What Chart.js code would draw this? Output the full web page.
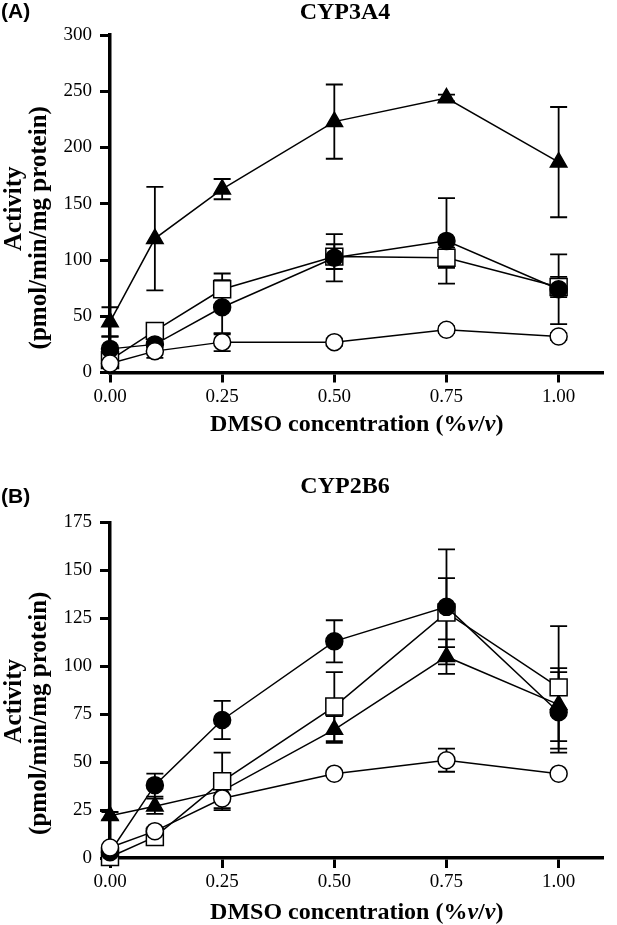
<!DOCTYPE html>
<html>
<head>
<meta charset="utf-8">
<script src="https://cdn.jsdelivr.net/npm/chart.js@4.4.1/dist/chart.umd.min.js"></script>
<style>
  body { margin: 0; background: #fff; }
  canvas { display: block; }
</style>
</head>
<body>
<canvas id="cyp3a4" width="617" height="470"></canvas>
<canvas id="cyp2b6" width="617" height="455"></canvas>
<script>
// DMSO concentrations (%v/v) and the ticks shown on the x axis
const doses = [0, 0.1, 0.25, 0.5, 0.75, 1.0];
const doseTicks = [0, 0.25, 0.5, 0.75, 1.0];

// CYP3A4 panel
const cyp3a4Ticks = [0, 50, 100, 150, 200, 250, 300];
const cyp3a4Open = [8, 19, 27, 27, 38, 32];
const cyp3a4OpenSd = [3, 6, 8, 3, 3, 3];
const cyp3a4Filled = [21, 25, 58, 102, 117, 74];
const cyp3a4FilledSd = [11, 5, 24, 21, 38, 31];
const cyp3a4Square = [11, 37, 74, 103, 102, 76];
const cyp3a4SquareSd = [4, 5, 14, 11, 9, 9];
const cyp3a4Triangle = [45, 119, 163, 223, 244, 187];
const cyp3a4TriangleSd = [13, 46, 9, 33, 3, 49];

// CYP2B6 panel
const cyp2b6Ticks = [0, 25, 50, 75, 100, 125, 150, 175];
const cyp2b6Open = [5.5, 14, 31, 44, 51, 44];
const cyp2b6OpenSd = [1, 2, 5, 1, 6, 1];
const cyp2b6Filled = [3, 38, 72, 113, 131, 76];
const cyp2b6FilledSd = [1, 6, 10, 11, 30, 21];
const cyp2b6Square = [0.5, 11, 40, 79, 128, 89];
const cyp2b6SquareSd = [0.5, 2, 15, 18, 18, 32];
const cyp2b6Triangle = [22, 27, 35, 67, 105, 80];
const cyp2b6TriangleSd = [2, 4, 3, 7, 9, 19];

const serif = '"Liberation Serif", "Times New Roman", serif';

// mean +/- SD bars, drawn under the markers
const errorBars = {
  id: 'errorBars',
  beforeDatasetsDraw(chart) {
    const { ctx, scales: { x, y } } = chart;
    ctx.save();
    ctx.strokeStyle = '#000';
    ctx.lineWidth = 1.8;
    chart.data.datasets.forEach((ds) => {
      ds.data.forEach((p, i) => {
        const e = ds.errors[i];
        if (!e) return;
        const px = x.getPixelForValue(p.x);
        const top = y.getPixelForValue(p.y + e);
        const bot = y.getPixelForValue(Math.max(p.y - e, 0));
        ctx.beginPath();
        ctx.moveTo(px, top); ctx.lineTo(px, bot);
        ctx.moveTo(px - 8.5, top); ctx.lineTo(px + 8.5, top);
        ctx.moveTo(px - 8.5, bot); ctx.lineTo(px + 8.5, bot);
        ctx.stroke();
      });
    });
    ctx.restore();
  }
};

// panel letter, title and axis titles
const panelText = {
  id: 'panelText',
  afterDraw(chart, args, o) {
    const { ctx, chartArea: a } = chart;
    ctx.save();
    ctx.fillStyle = '#000';
    ctx.textBaseline = 'middle';

    ctx.textAlign = 'left';
    ctx.font = 'bold 21px "Liberation Sans", Arial, sans-serif';
    ctx.fillText(o.panel, 1, o.panelY);

    ctx.textAlign = 'center';
    ctx.font = 'bold 24px ' + serif;
    ctx.fillText(o.title, 345, a.top + o.titleDy);

    const cy = (a.top + a.bottom) / 2;
    ctx.font = 'bold 25px ' + serif;
    [['Activity', 15, o.yDy[0]], ['(pmol/min/mg protein)', 39.5, o.yDy[1]]].forEach(([t, x, dy]) => {
      ctx.save();
      ctx.translate(x, cy + dy);
      ctx.rotate(-Math.PI / 2);
      ctx.fillText(t, 0, 0);
      ctx.restore();
    });

    // x title, the v's in italics
    const parts = [['DMSO concentration (%', false], ['v', true], ['/', false], ['v', true], [')', false]];
    const fontOf = (it) => (it ? 'italic bold 24px ' : 'bold 24px ') + serif;
    let total = 0;
    parts.forEach(([t, it]) => { ctx.font = fontOf(it); total += ctx.measureText(t).width; });
    let tx = (a.left + a.right) / 2 - total / 2;
    const ty = a.bottom + o.xTitleDy;
    ctx.textAlign = 'left';
    parts.forEach(([t, it]) => {
      ctx.font = fontOf(it);
      ctx.fillText(t, tx, ty);
      tx += ctx.measureText(t).width;
    });
    ctx.restore();
  }
};

function series(values, sds, style) {
  return Object.assign({
    data: doses.map((d, i) => ({ x: d, y: values[i] })),
    errors: sds,
    borderColor: '#000',
    borderWidth: 1.5,
    tension: 0,
    clip: false,
    pointBorderColor: '#000',
    pointBorderWidth: 1.5,
  }, style);
}

const openCircle = { label: 'open circle', pointStyle: 'circle', pointRadius: 8.5, pointBackgroundColor: '#fff' };
const filledCircle = { label: 'filled circle', pointStyle: 'circle', pointRadius: 8.5, pointBackgroundColor: '#000' };
const openSquare = { label: 'open square', pointStyle: 'rect', pointRadius: 12, pointBackgroundColor: '#fff' };
const filledTriangle = { label: 'filled triangle', pointStyle: 'triangle', pointRadius: 9.5, pointBackgroundColor: '#000' };

function makeChart(id, sets, yTicks, yMax, cfg) {
  new Chart(document.getElementById(id), {
    type: 'line',
    data: { datasets: sets },
    options: {
      responsive: false,
      animation: false,
      events: [],
      layout: { padding: { top: cfg.top, right: 5.4, left: 0, bottom: 0 } },
      scales: {
        x: {
          type: 'linear',
          min: 0,
          max: 1.1,
          afterBuildTicks: (s) => { s.ticks = doseTicks.map((v) => ({ value: v })); },
          afterFit: (s) => { s.height = cfg.xHeight; },
          border: { display: true, color: '#000', width: 3.5 },
          grid: { display: true, drawOnChartArea: false, drawTicks: true, tickLength: 10, tickWidth: 3, tickColor: '#000' },
          ticks: {
            color: '#000',
            font: { family: serif, size: 19 },
            padding: 3,
            maxRotation: 0,
            callback: (v) => Number(v).toFixed(2),
          },
        },
        y: {
          min: 0,
          max: yMax,
          afterBuildTicks: (s) => { s.ticks = yTicks.map((v) => ({ value: v })); },
          afterFit: (s) => { s.width = 110; },
          border: { display: true, color: '#000', width: 3.5 },
          grid: { display: true, drawOnChartArea: false, drawTicks: true, tickLength: 10, tickWidth: 3, tickColor: '#000' },
          ticks: {
            color: '#000',
            font: { family: serif, size: 19 },
            padding: 8,
          },
        },
      },
      plugins: {
        legend: { display: false },
        tooltip: { enabled: false },
        panelText: cfg.text,
      },
    },
    plugins: [errorBars, panelText],
  });
}

makeChart('cyp3a4', [
  series(cyp3a4Open, cyp3a4OpenSd, openCircle),
  series(cyp3a4Filled, cyp3a4FilledSd, filledCircle),
  series(cyp3a4Square, cyp3a4SquareSd, openSquare),
  series(cyp3a4Triangle, cyp3a4TriangleSd, filledTriangle),
], cyp3a4Ticks, 300, {
  top: 35,
  xHeight: 97.5,
  text: { panel: '(A)', panelY: 12, title: 'CYP3A4', titleDy: -22.5, yDy: [5, 24], xTitleDy: 52.5 },
});

makeChart('cyp2b6', [
  series(cyp2b6Open, cyp2b6OpenSd, openCircle),
  series(cyp2b6Filled, cyp2b6FilledSd, filledCircle),
  series(cyp2b6Square, cyp2b6SquareSd, openSquare),
  series(cyp2b6Triangle, cyp2b6TriangleSd, filledTriangle),
], cyp2b6Ticks, 175, {
  top: 52.5,
  xHeight: 67,
  text: { panel: '(B)', panelY: 27, title: 'CYP2B6', titleDy: -35.5, yDy: [11, 23], xTitleDy: 55 },
});
</script>
</body>
</html>
